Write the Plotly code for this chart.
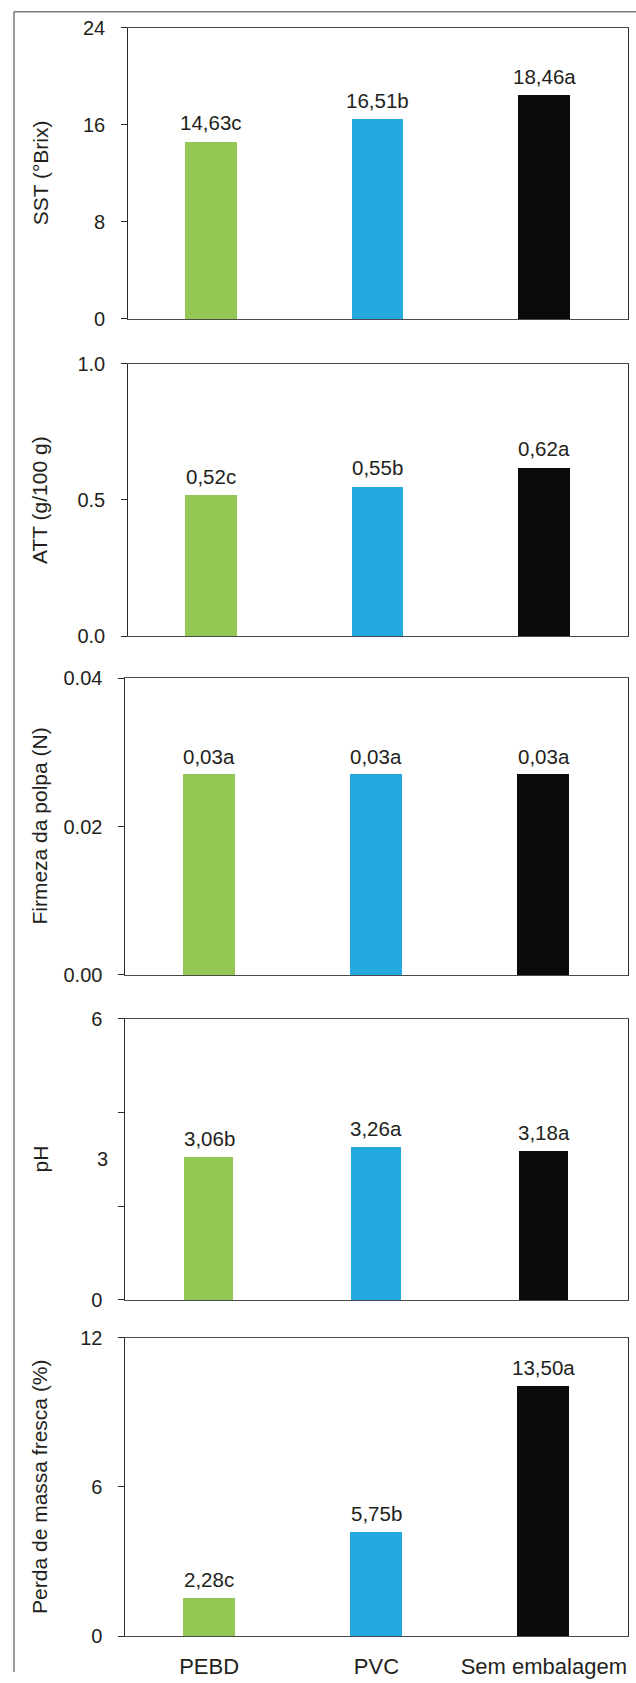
import plotly.graph_objects as go

W, H = 636, 1683

categories = ["PEBD", "PVC", "Sem embalagem"]
colors = ["#92c853", "#23a9e0", "#0b0b09"]

sst_values = [14.63, 16.51, 18.46]
sst_labels = ["14,63c", "16,51b", "18,46a"]
att_values = [0.52, 0.55, 0.62]
att_labels = ["0,52c", "0,55b", "0,62a"]
firmeza_values = [0.027, 0.027, 0.027]
firmeza_labels = ["0,03a", "0,03a", "0,03a"]
ph_values = [3.06, 3.26, 3.18]
ph_labels = ["3,06b", "3,26a", "3,18a"]
perda_values = [1.54, 4.19, 10.06]
perda_labels = ["2,28c", "5,75b", "13,50a"]

titles = ["SST (°Brix)", "ATT (g/100 g)", "Firmeza da polpa (N)", "pH",
          "Perda de massa fresca (%)"]
y_ranges = [[0, 24], [0, 1], [0, 0.04], [0, 6], [0, 12]]
y_tickvals = [[0, 8, 16, 24], [0, 0.5, 1.0], [0, 0.02, 0.04], [0, 2, 4, 6], [0, 6, 12]]
y_ticktext = [["0", "8", "16", "24"], ["0.0", "0.5", "1.0"], ["0.00", "0.02", "0.04"],
              ["0", "", "", "6"], ["0", "6", "12"]]
ph_extra_label = ("3", 3)

values = [sst_values, att_values, firmeza_values, ph_values, perda_values]
labels = [sst_labels, att_labels, firmeza_labels, ph_labels, perda_labels]

# layout geometry (target pixels in the photographed page)
tops = [27.7, 363.7, 678.3, 1019, 1337.7]
bottoms = [319, 636.3, 975, 1300, 1636.3]
lefts = [128.2, 128.2, 125.4, 125.4, 125.4]
right = 627.5
bar_widths = [0.31, 0.31, 0.31, 0.295, 0.31]


def py(p):
    """target pixel row -> paper fraction (compensates the photo's vertical fit)"""
    q = (p - 11.0) / 0.987
    return min(1.0, max(0.0, 1 - q / H))


FONT = "Liberation Sans, Arial, Helvetica, sans-serif"
TXT = "#231f20"

fig = go.Figure()
annotations = []
layout = {}

for i in range(5):
    n = i + 1
    xa = "x" if n == 1 else f"x{n}"
    ya = "y" if n == 1 else f"y{n}"
    fig.add_trace(go.Bar(
        x=categories, y=values[i], marker=dict(color=colors, line=dict(width=0)),
        width=bar_widths[i], xaxis=xa, yaxis=ya, showlegend=False, hoverinfo="skip"))
    for c, v, t in zip(categories, values[i], labels[i]):
        annotations.append(dict(x=c, y=v, xref=xa, yref=ya, text=t, showarrow=False,
                                xanchor="center", yanchor="bottom", yshift=5,
                                font=dict(family=FONT, size=20.5, color=TXT)))
    annotations.append(dict(x=40 / W, y=py((tops[i] + bottoms[i]) / 2),
                            xref="paper", yref="paper", text=titles[i], textangle=-90,
                            showarrow=False, xanchor="center", yanchor="middle",
                            font=dict(family=FONT, size=21, color=TXT)))
    layout[f"xaxis{n if n > 1 else ''}"] = dict(
        domain=[lefts[i] / W, right / W], anchor=ya, range=[-0.5, 2.5],
        showline=True, mirror=True, linecolor="#4a4a4a", linewidth=1,
        ticks="", showgrid=False, zeroline=False, fixedrange=True,
        showticklabels=(n == 5), tickfont=dict(family=FONT, size=22, color=TXT),
        ticklabelstandoff=10)
    layout[f"yaxis{n if n > 1 else ''}"] = dict(
        domain=[py(bottoms[i]), py(tops[i])], anchor=xa, range=y_ranges[i],
        showline=True, mirror=True, linecolor="#2a2a2a", linewidth=1,
        ticks="outside", ticklen=6, tickcolor="#2a2a2a", tickwidth=1,
        tickvals=y_tickvals[i], ticktext=y_ticktext[i],
        tickfont=dict(family=FONT, size=20, color=TXT), ticklabelstandoff=12,
        showgrid=False, zeroline=False, fixedrange=True)

annotations.append(dict(x=110 / W, y=ph_extra_label[1], xref="paper", yref="y4",
                        text=ph_extra_label[0], showarrow=False, xanchor="right",
                        yanchor="middle", font=dict(family=FONT, size=20, color=TXT)))

top_line = 1 - 0.75 / H
shapes = [
    dict(type="line", xref="paper", yref="paper", x0=14 / W, x1=14 / W,
         y0=top_line, y1=0, line=dict(color="#7a7a7a", width=1.5)),
    dict(type="line", xref="paper", yref="paper", x0=14 / W, x1=1,
         y0=top_line, y1=top_line, line=dict(color="#7a7a7a", width=1.5)),
]

fig.update_layout(width=W, height=H, margin=dict(l=0, r=0, t=0, b=0),
                  paper_bgcolor="white", plot_bgcolor="white",
                  annotations=annotations, shapes=shapes, bargap=0, **layout)

post = (
    "document.documentElement.style.margin='0';"
    "document.documentElement.style.overflow='hidden';"
    "document.body.style.margin='0';"
    "document.body.style.overflow='hidden';"
    "var gd=document.getElementById('{plot_id}');"
    "gd.style.position='fixed';gd.style.left='0px';gd.style.top='0px';"
)

fig.write_html("out.html", config={"displayModeBar": False}, post_script=post)
